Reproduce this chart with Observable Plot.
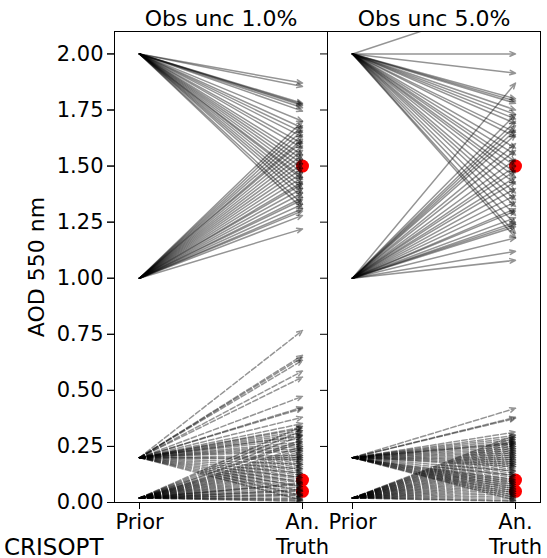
<!DOCTYPE html>
<html><head><meta charset="utf-8">
<script src="https://cdn.jsdelivr.net/npm/d3@7"></script>
<script src="https://cdn.jsdelivr.net/npm/@observablehq/plot@0.6"></script>
<style>
html,body{margin:0;padding:0;background:#fff;overflow:hidden;}
#wrap{position:relative;width:547px;height:558px;font-family:"DejaVu Sans",sans-serif;}
#cut{position:absolute;left:4px;top:536px;font-size:23px;color:#000;font-family:"DejaVu Sans",sans-serif;line-height:1;}
</style></head><body><div id="wrap"></div><script>
const panels = ["Obs unc 1.0%", "Obs unc 5.0%"];
const xCategories = ["Prior", "An.\nTruth"];
const yTicks = [0, 0.25, 0.5, 0.75, 1.0, 1.25, 1.5, 1.75, 2.0];
const truths = [1.5, 0.1, 0.05];
const priorValues = [2.0, 1.0, 0.2, 0.02];

// Obs unc 1.0% analyses
const an1From2 = [1.87, 1.855, 1.78, 1.775, 1.77, 1.76, 1.745, 1.70, 1.67, 1.65, 1.63, 1.60, 1.58, 1.55, 1.53, 1.51, 1.49, 1.47, 1.45, 1.44, 1.42, 1.40, 1.38, 1.36, 1.33, 1.31];
const an1From1 = [1.70, 1.68, 1.66, 1.64, 1.62, 1.61, 1.59, 1.57, 1.55, 1.53, 1.51, 1.49, 1.47, 1.45, 1.43, 1.42, 1.40, 1.38, 1.36, 1.35, 1.33, 1.31, 1.30, 1.28, 1.22];
const an1From02 = [0.767, 0.656, 0.647, 0.634, 0.586, 0.559, 0.473, 0.425, 0.419, 0.38, 0.352, 0.336, 0.33, 0.32, 0.31, 0.30, 0.295, 0.285, 0.27, 0.26, 0.25, 0.24, 0.23, 0.21, 0.20, 0.19, 0.17, 0.15, 0.13, 0.11, 0.09, 0.07, 0.05, 0.03, 0.01];
const an1From002 = [0.34, 0.32, 0.30, 0.28, 0.27, 0.25, 0.24, 0.23, 0.22, 0.21, 0.20, 0.19, 0.18, 0.17, 0.16, 0.15, 0.14, 0.13, 0.12, 0.11, 0.10, 0.09, 0.085, 0.08, 0.07, 0.06, 0.055, 0.05, 0.04, 0.035, 0.03, 0.02, 0.015, 0.01, 0.005];

// Obs unc 5.0% analyses
const an5From2 = [2.24, 2.0, 1.914, 1.80, 1.79, 1.78, 1.75, 1.73, 1.71, 1.69, 1.65, 1.63, 1.58, 1.55, 1.52, 1.50, 1.47, 1.45, 1.42, 1.38, 1.35, 1.32, 1.28, 1.24, 1.20, 1.18];
const an5From1 = [1.87, 1.73, 1.70, 1.68, 1.66, 1.64, 1.60, 1.57, 1.53, 1.50, 1.48, 1.45, 1.43, 1.40, 1.37, 1.34, 1.31, 1.30, 1.27, 1.25, 1.24, 1.23, 1.18, 1.12, 1.08];
const an5From02 = [0.42, 0.38, 0.375, 0.314, 0.30, 0.29, 0.28, 0.27, 0.265, 0.26, 0.25, 0.24, 0.23, 0.22, 0.21, 0.20, 0.19, 0.18, 0.17, 0.16, 0.14, 0.12, 0.10, 0.09, 0.08, 0.07, 0.06, 0.05, 0.04, 0.03, 0.02, 0.01];
const an5From002 = [0.30, 0.29, 0.28, 0.27, 0.26, 0.25, 0.24, 0.23, 0.22, 0.21, 0.20, 0.19, 0.18, 0.17, 0.16, 0.15, 0.14, 0.13, 0.12, 0.11, 0.10, 0.09, 0.08, 0.07, 0.06, 0.05, 0.04, 0.03, 0.02, 0.01, 0.005];

const groups = [
  [panels[0], priorValues[0], an1From2, false],
  [panels[0], priorValues[1], an1From1, false],
  [panels[0], priorValues[2], an1From02, true],
  [panels[0], priorValues[3], an1From002, true],
  [panels[1], priorValues[0], an5From2, false],
  [panels[1], priorValues[1], an5From1, false],
  [panels[1], priorValues[2], an5From02, true],
  [panels[1], priorValues[3], an5From002, true]
];
const rows = groups.flatMap(([panel, prior, ans, dashed]) =>
  ans.map(an => ({panel, from: xCategories[0], to: xCategories[1], prior, an, dashed})));
const truthRows = panels.flatMap(panel => truths.map(value => ({panel, cat: xCategories[1], value})));

const arrowOpts = {fx: "panel", x1: "from", x2: "to", y1: "prior", y2: "an",
  stroke: "black", strokeOpacity: 0.42, strokeWidth: 1.5, headLength: 6, headAngle: 45, clip: true};

const chart = Plot.plot({
  width: 547, height: 558,
  marginTop: 31, marginBottom: 56, marginLeft: 113, marginRight: 7,
  style: {fontFamily: "DejaVu Sans", fontSize: "21px", color: "black", background: "white"},
  fx: {domain: panels, padding: 0},
  x: {type: "point", domain: xCategories, padding: 0.152},
  y: {domain: [0, 2.1]},
  marks: [
    Plot.dot(truthRows, {fx: "panel", x: "cat", y: "value", r: 6.5, fill: "red", stroke: "none"}),
    Plot.arrow(rows.filter(d => !d.dashed), arrowOpts),
    Plot.arrow(rows.filter(d => d.dashed), {...arrowOpts, strokeDasharray: "5.5,2.4"}),
    Plot.frame({stroke: "black", strokeWidth: 1}),
    Plot.axisY({ticks: yTicks, tickFormat: d3.format(".2f"), tickSize: 7, tickPadding: 4, label: null, fontSize: 21}),
    Plot.axisY({ticks: yTicks, tickFormat: () => "", tickSize: 7, label: null, facetAnchor: null}),
    Plot.axisX({tickSize: 7, tickPadding: 2, label: null, fontSize: 21, lineHeight: 1.18}),
    Plot.axisFx({anchor: "top", tickSize: 0, tickPadding: 6, label: null, fontSize: 22}),
    Plot.text(["AOD 550 nm"], {text: d => d, frameAnchor: "left", rotate: -90, dx: -78, fontSize: 22, lineAnchor: "middle", textAnchor: "middle", facetAnchor: "left"})
  ]
});
const wrap = document.getElementById("wrap");
wrap.appendChild(chart);
const cut = document.createElement("div");
cut.id = "cut";
cut.textContent = "CRISOPT";
wrap.appendChild(cut);
</script></body></html>
